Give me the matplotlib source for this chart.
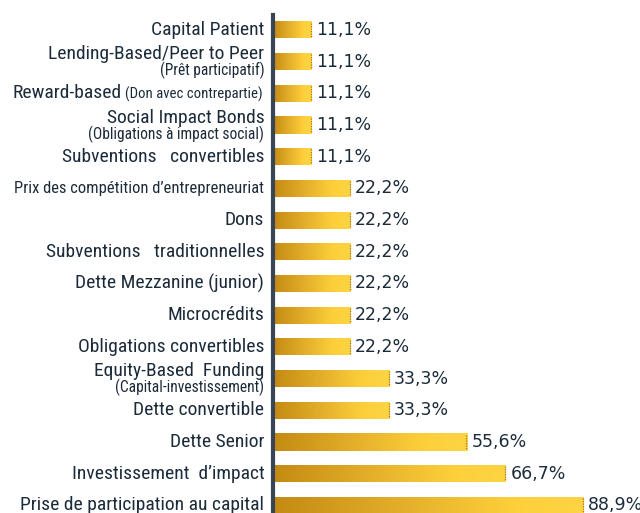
import numpy as np
import matplotlib.pyplot as plt
from matplotlib.colors import LinearSegmentedColormap

# data, top to bottom
labels = ["Capital Patient", "Lending-Based/Peer to Peer", "Reward-based",
          "Social Impact Bonds", "Subventions   convertibles",
          "Prix des compétition d\u2019entrepreneuriat", "Dons",
          "Subventions   traditionnelles", "Dette Mezzanine (junior)",
          "Microcrédits", "Obligations convertibles", "Equity-Based  Funding",
          "Dette convertible", "Dette Senior", "Investissement  d\u2019impact",
          "Prise de participation au capital"]
sublabels = ["", "(Prêt participatif)", "", "(Obligations à impact social)", "",
             "", "", "", "", "", "", "(Capital-investissement)", "", "", "", ""]
inline_sub = {2: "(Don avec contrepartie)"}
values = [11.1, 11.1, 11.1, 11.1, 11.1, 22.2, 22.2, 22.2, 22.2, 22.2, 22.2,
          33.3, 33.3, 55.6, 66.7, 88.9]

txt = "#1c2b3a"
cmap = LinearSegmentedColormap.from_list(
    "gold", [(0, "#c48a12"), (0.45, "#e6b22c"), (0.78, "#fdd03b"), (1, "#fed444")])

W, H = 640, 513
fig = plt.figure(figsize=(W / 100, H / 100), dpi=100)
ax = fig.add_axes([273 / W, 0, 1 - 273 / W, 1 - 15 / H])

y = np.arange(len(values))
bars = ax.barh(y, values, height=0.54, color="none", edgecolor="none")
grad = np.linspace(0, 1, 256).reshape(1, -1)
for b, v in zip(bars, values):
    y0, y1 = b.get_y(), b.get_y() + b.get_height()
    im = ax.imshow(grad, cmap=cmap, aspect="auto", extent=(0, v, y1, y0), zorder=2)
    im.set_clip_path(b)
    # dotted edge at the end of each bar
    ax.vlines(v - 0.2, y0 + 0.04, y1 - 0.04, colors="#9c7a1c", lw=0.9,
              linestyles=(0, (1, 1)), zorder=3)
    ax.text(v + 1.3, (y0 + y1) / 2, f"{v:.1f}%".replace(".", ","),
            va="center", ha="left", fontsize=12.5, color=txt)

ax.set_xlim(0, 367 / 3.49)
ax.set_ylim(15.24, -0.47)
for s in ["top", "right", "bottom"]:
    ax.spines[s].set_visible(False)
ax.spines["left"].set_color("#394554")
ax.spines["left"].set_linewidth(3)
ax.set_xticks([])
ax.set_yticks([])

kw = dict(color=txt, family=["Roboto Condensed", "DejaVu Sans"], clip_on=False)
xl = -2.5
max_w = 250  # px, longest labels get squeezed like in the source
fig.canvas.draw()
rend = fig.canvas.get_renderer()


def label(x, yy, s, fs):
    t = ax.text(x, yy, s, ha="right", va="center", fontsize=fs, **kw)
    w = t.get_window_extent(rend).width
    if w > max_w:
        t.set_fontsize(fs * max_w / w)
    return t


for i, lab in enumerate(labels):
    sub = sublabels[i]
    if i in inline_sub:
        t = label(xl - 0.6, i + 0.03, inline_sub[i], 10.6)
        bb = t.get_window_extent(rend).transformed(ax.transData.inverted())
        label(bb.x0 - 0.9, i, lab, 14)
    elif sub:
        label(xl, i - 0.23, lab, 14)
        label(xl, i + 0.29, sub, 11.2)
    else:
        label(xl, i, lab, 14)

fig.savefig("out.png", dpi=100)
